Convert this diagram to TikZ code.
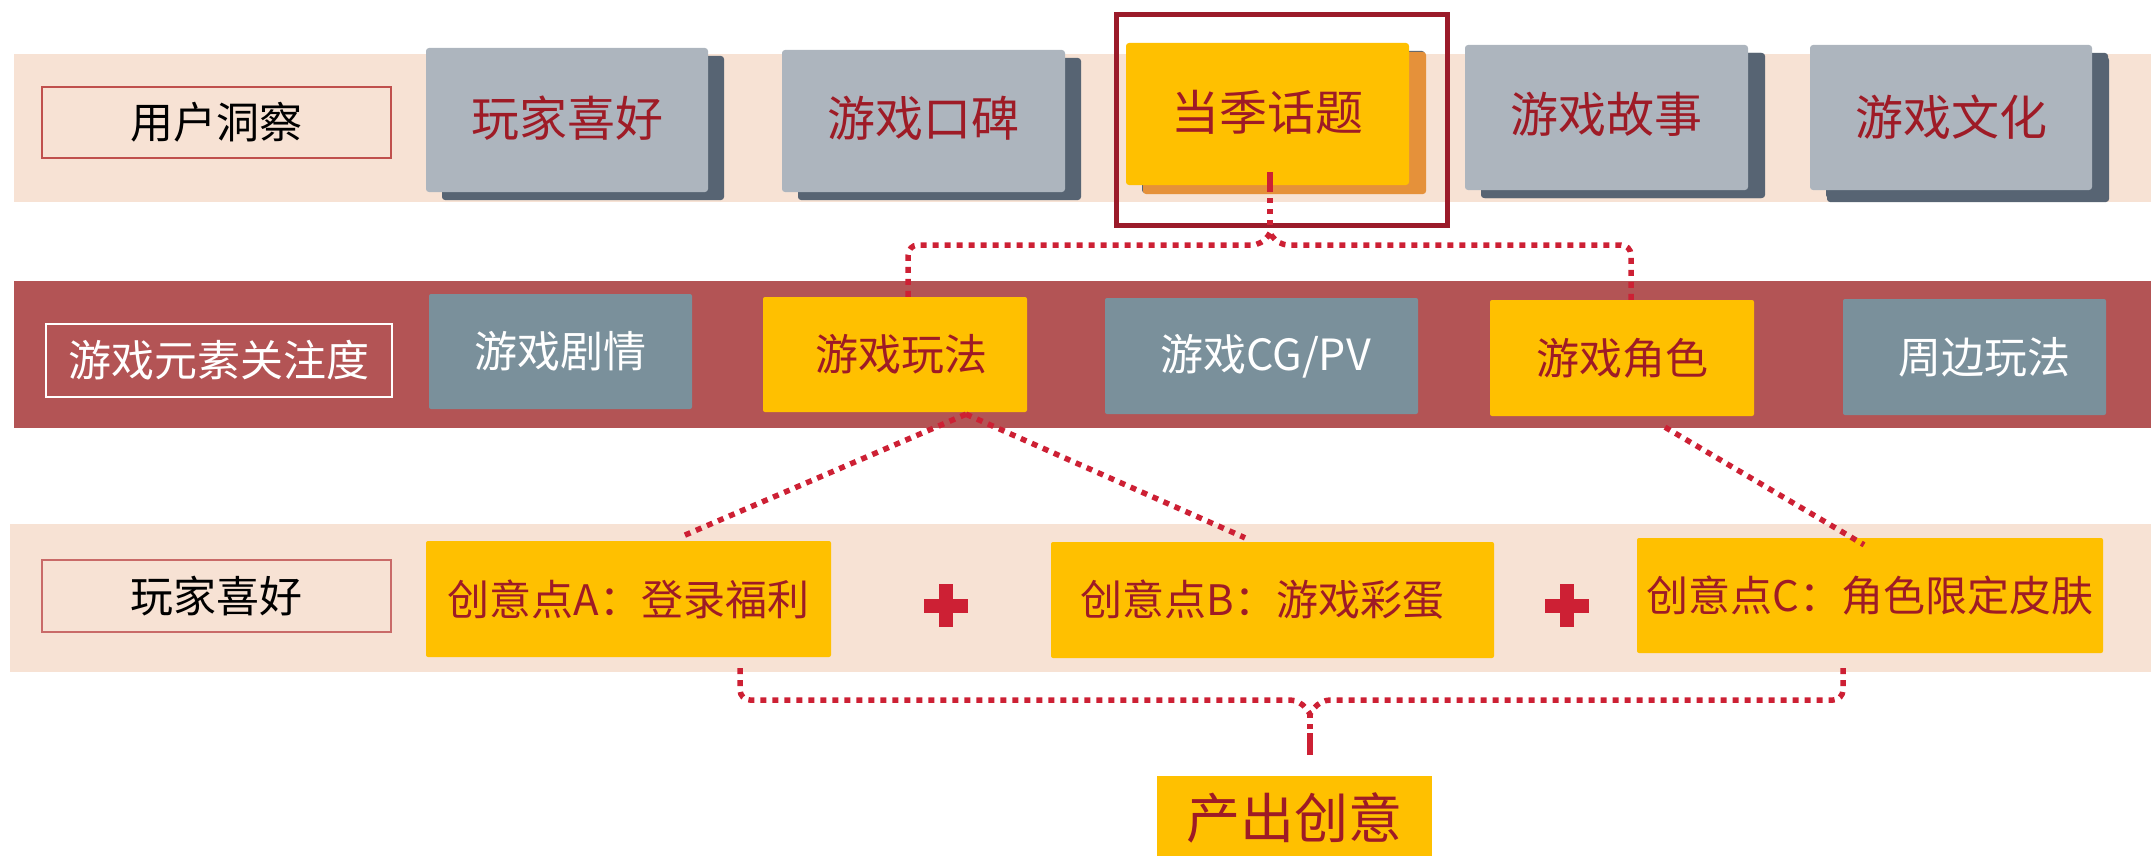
\documentclass[tikz,border=0pt]{standalone}
\usepackage{fontspec}
\setmainfont{Noto Sans CJK SC}
\usetikzlibrary{shadows,calc}
\definecolor{peach}{RGB}{247,226,212}
\definecolor{redband}{RGB}{179,84,85}
\definecolor{cardgray}{RGB}{173,181,190}
\definecolor{shadowdark}{RGB}{87,100,115}
\definecolor{gold}{RGB}{255,192,0}
\definecolor{orangeshadow}{RGB}{229,145,58}
\definecolor{teal}{RGB}{122,144,155}
\definecolor{framered}{RGB}{155,27,42}
\definecolor{textred}{RGB}{158,27,38}
\definecolor{dotred}{RGB}{205,32,52}
\definecolor{labelred}{RGB}{192,80,77}
\newcommand{\fsz}[1]{\fontsize{#1pt}{#1pt}\selectfont}
\begin{document}
\begin{tikzpicture}[x=1pt,y=-1pt,
  card/.style={fill=cardgray, rounded corners=3pt, text=textred, inner sep=0pt,
    font=\fsz{48},
    drop shadow={shadow xshift=16pt, shadow yshift=-8pt, fill=shadowdark, opacity=1}},
  topiccard/.style={card, fill=gold,
    drop shadow={shadow xshift=17pt, shadow yshift=-9pt, fill=orangeshadow, opacity=1}},
  tealbox/.style={fill=teal, rounded corners=2pt, text=white, inner sep=0pt, font=\fsz{43}},
  goldbox/.style={fill=gold, rounded corners=2pt, text=textred, inner sep=0pt, font=\fsz{43}},
  ideabox/.style={fill=gold, rounded corners=2pt, text=textred, inner sep=0pt, font=\fsz{42}},
  labbox/.style={draw=labelred, line width=2pt, text=black, inner sep=0pt, font=\fsz{43},
    minimum width=349pt, minimum height=72pt},
  dotline/.style={draw=dotred, line width=5.5pt, dash pattern=on 6pt off 6pt},
]
\useasboundingbox (0,0) rectangle (2151,856);
% bands
\fill[peach] (14,54) rectangle (2151,202);
\fill[redband] (14,281) rectangle (2151,428);
\fill[peach] (10,524) rectangle (2151,672);
% highlight frame
\draw[framered, line width=5pt] (1116,14.5) rectangle (1447.5,225.5);
% row 1
\node[labbox, minimum height=71pt] (l1) at (216.5,122.5) {用户洞察};
\node[card, minimum width=282pt, minimum height=144pt] (c1) at (567,120) {\raisebox{7pt}{玩家喜好}};
\node[card, minimum width=283pt, minimum height=142pt] (c2) at (923.5,121) {\raisebox{10pt}{游戏口碑}};
\node[topiccard, minimum width=283pt, minimum height=142pt] (topic) at (1267.5,114) {\raisebox{8pt}{当季话题}};
\node[card, minimum width=283pt, minimum height=145pt,
  drop shadow={shadow xshift=17pt, shadow yshift=-8pt, fill=shadowdark, opacity=1}] (c4) at (1606.5,117.5) {\raisebox{11pt}{游戏故事}};
\node[card, minimum width=282pt, minimum height=145pt,
  drop shadow={shadow xshift=17pt, shadow yshift=-12pt, fill=shadowdark, opacity=1}] (c5) at (1951,117.5) {游戏文化};
% row 2
\node[labbox, draw=white, text=white, minimum width=346pt, minimum height=73pt] (l2) at (219,360.5) {\raisebox{-2pt}{游戏元素关注度}};
\node[tealbox, minimum width=263pt, minimum height=115pt] (juqing) at (560.5,351.5) {游戏剧情};
\node[goldbox, minimum width=264pt, minimum height=115pt] (wanfa) at (895,354.5) {\kern12pt游戏玩法};
\node[tealbox, minimum width=313pt, minimum height=116pt] (cgpv) at (1261.5,356) {\raisebox{2pt}{\kern8pt游戏CG/PV}};
\node[goldbox, minimum width=264pt, minimum height=116pt] (juese) at (1622,358) {\raisebox{-8pt}{游戏角色}};
\node[tealbox, minimum width=263pt, minimum height=116pt] (zhoubian) at (1974.5,357) {\kern20pt周边玩法};
% row 3
\node[labbox, draw=labelred!85!white] (l3) at (216.5,596) {\raisebox{-2pt}{玩家喜好}};
\node[ideabox, minimum width=405pt, minimum height=116pt] (ideaA) at (628.5,599) {\raisebox{-4pt}{创意点A：登录福利}};
\node[ideabox, minimum width=443pt, minimum height=116pt] (ideaB) at (1272.5,600) {\raisebox{-12pt}{\kern-20pt创意点B：游戏彩蛋}};
\node[ideabox, minimum width=466pt, minimum height=115pt] (ideaC) at (1870,595.5) {\raisebox{-4pt}{创意点C：角色限定皮肤}};
% plus signs
\foreach \cx in {946,1567}{
  \fill[dotred] (\cx-7,584) rectangle (\cx+7,627);
  \fill[dotred] (\cx-22,599) rectangle (\cx+22,613);
}
% output
\node[fill=gold, text=textred, inner sep=0pt, font=\fsz{54}, minimum width=275pt, minimum height=84pt] (out) at (1294.5,818) {\raisebox{2pt}{产出创意}};
% connectors: top brace
\coordinate (tl) at ([xshift=13pt]wanfa.north);
\coordinate (tr) at ([xshift=9pt]juese.north);
\coordinate (topcusp) at (1270,233);
\draw[dotline, rounded corners=10pt] (tl) -- (tl |- 0,245) -- (1262,245) -- (topcusp);
\draw[dotline, rounded corners=10pt] (tr) -- (tr |- 0,245) -- (1278,245) -- (topcusp);
\draw[dotline, dash pattern=on 20pt off 6pt on 5pt off 6pt on 5pt off 6pt on 5pt off 8pt]
  ([xshift=2.5pt,yshift=13pt]topic.south) -- (topcusp);
% diagonal connectors
\coordinate (apex) at ([xshift=71pt,yshift=-2pt]wanfa.south);
\draw[dotline] (apex) -- ([xshift=52.5pt,yshift=4pt]ideaA.north);
\draw[dotline] (apex) -- ([xshift=-27.5pt,yshift=4pt]ideaB.north);
\draw[dotline] ([xshift=43pt,yshift=-11pt]juese.south) -- ([xshift=-6pt,yshift=-7pt]ideaC.north);
% bottom brace
\coordinate (bl) at (740,668);
\coordinate (br) at (1843,668);
\coordinate (botcusp) at (1310,714);
\coordinate (botend) at (1310,755);
\draw[dotline, rounded corners=10pt] (bl) -- (bl |- 0,700) -- (1300,700) -- (botcusp);
\draw[dotline, rounded corners=10pt] (br) -- (br |- 0,700) -- (1320,700) -- (botcusp);
\draw[dotline, dash pattern=on 4pt off 6pt on 5pt off 4pt on 27pt] (botcusp) -- (botend);
\end{tikzpicture}
\end{document}
